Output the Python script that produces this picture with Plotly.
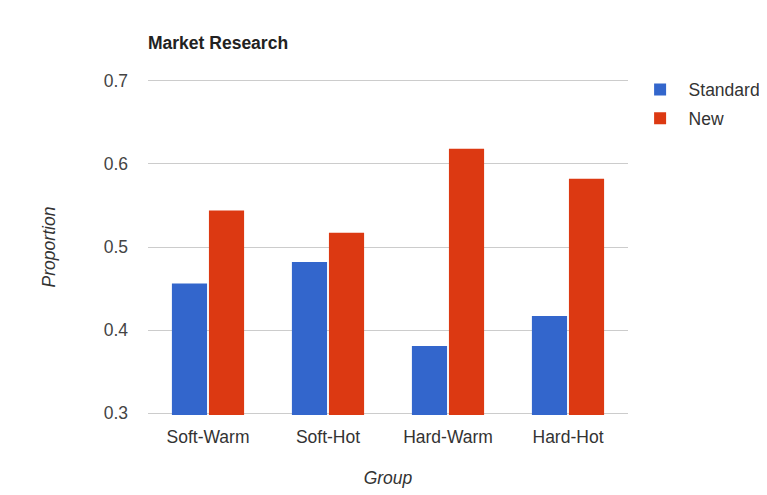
import plotly.graph_objects as go

categories = ["Soft-Warm", "Soft-Hot", "Hard-Warm", "Hard-Hot"]
standard = [0.456, 0.482, 0.381, 0.417]
new = [0.544, 0.517, 0.618, 0.582]
y_ticks = [0.3, 0.4, 0.5, 0.6, 0.7]

font = "Liberation Sans, Arial, sans-serif"
FS = 17.5
W, H = 759, 487  # page body has an 8px margin

fig = go.Figure()
fig.add_trace(go.Bar(name="Standard", x=categories, y=standard, legendgroup="s",
                     marker=dict(color="#3366cc", line=dict(width=0))))
fig.add_trace(go.Bar(name="New", x=categories, y=new, legendgroup="n",
                     marker=dict(color="#dc3912", line=dict(width=0))))

fig.update_layout(
    width=W, height=H,
    margin=dict(l=140, r=139, t=71, b=80, autoexpand=False),
    paper_bgcolor="white", plot_bgcolor="white",
    font=dict(family=font, size=FS, color="#444444"),
    title=dict(text="<b>Market Research</b>", x=140/W, xanchor="left", y=1 - 35/H, yanchor="middle",
               font=dict(family=font, size=FS, color="#222222")),
    barmode="group", bargap=0.383, bargroupgap=0.05,
    legend=dict(xref="container", yref="container", x=623.6/W, y=1 - 63.6/H,
                xanchor="left", yanchor="top",
                font=dict(size=FS, color="#333333"),
                itemwidth=47, tracegroupgap=3),
    xaxis=dict(title=dict(text="<i>Group</i>", standoff=26, font=dict(size=FS, color="#333333")),
               automargin=False, showgrid=False, ticks="", ticklabelstandoff=9,
               tickfont=dict(size=FS, color="#333333"), showline=False),
    yaxis=dict(range=[0.298, 0.702], tickvals=y_ticks, ticktext=[f"{v:.1f}" for v in y_ticks],
               title=dict(text="<i>Proportion</i>", standoff=43, font=dict(size=FS, color="#333333")),
               automargin=False, showgrid=True, gridcolor="#cccccc", gridwidth=1, zeroline=False,
               showline=False, ticks="", ticklabelstandoff=19, tickfont=dict(size=FS, color="#444444")),
)

fig.write_html("out.html")
